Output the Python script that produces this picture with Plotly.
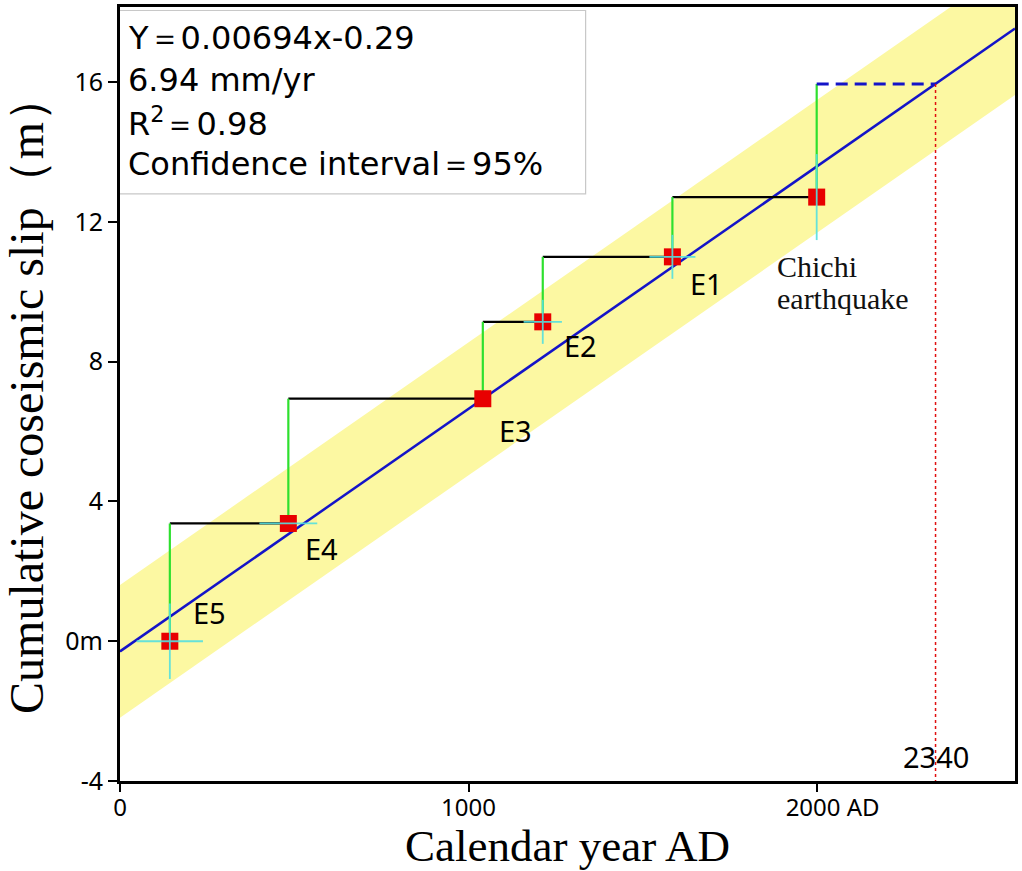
import plotly.graph_objects as go

# Paleoseismic events: calendar year and cumulative coseismic slip (m)
event_names = ["E5", "E4", "E3", "E2", "E1"]
event_years = [143, 483, 1041, 1213, 1585, 1999]
event_slip = [0.0, 3.37, 6.94, 9.14, 11.0, 12.71]
year_err = [95, 83, 0, 55, 66, 0]
slip_err = [1.08, 0.0, 0.0, 0.63, 0.63, 1.23]
last_event_label = ["Chichi", "earthquake"]

# Linear regression of slip on time
slope = 0.00694
intercept = -0.29
band_half = 1.9
projected_year = 2340
projected_slip = slope * projected_year + intercept

x_range = [0, 2568]
y_range = [-4, 18.15]
y_ticks = [-4, 0, 4, 8, 12, 16]
y_ticktext = ["-4", "0m", "4", "8", "12", "16"]
x_ticks = [0, 1000, 2000]
x_ticktext = ["0", "1000", "&nbsp;&nbsp;&nbsp;&nbsp;&nbsp;2000 AD"]

stats_lines = ["Y＝0.00694x-0.29", "6.94 mm/yr", "R<sup>2</sup>＝0.98", "Confidence interval＝95%"]

fig = go.Figure()

# 95% confidence band
fx = [x_range[0], x_range[1]]
lower = [slope * v + intercept - band_half for v in fx]
upper = [slope * v + intercept + band_half for v in fx]
fig.add_trace(go.Scatter(x=fx, y=lower, mode="lines", line=dict(width=0), hoverinfo="skip"))
fig.add_trace(go.Scatter(x=fx, y=upper, mode="lines", line=dict(width=0), fill="tonexty",
                         fillcolor="#FCF8A2", hoverinfo="skip"))

# Regression line
fig.add_trace(go.Scatter(x=fx, y=[slope * v + intercept for v in fx], mode="lines",
                         line=dict(color="#1414C8", width=2.5), hoverinfo="skip"))

# Staircase: green rises (slip per event) and black horizontals (interseismic)
next_slip = event_slip[1:] + [projected_slip]
gx, gy, bx, by = [], [], [], []
for i, yr in enumerate(event_years):
    gx += [yr, yr, None]
    gy += [event_slip[i], next_slip[i], None]
    if i + 1 < len(event_years):
        bx += [yr, event_years[i + 1], None]
        by += [next_slip[i], next_slip[i], None]
fig.add_trace(go.Scatter(x=bx, y=by, mode="lines", line=dict(color="black", width=2.2), hoverinfo="skip"))
fig.add_trace(go.Scatter(x=gx, y=gy, mode="lines", line=dict(color="#2EE02E", width=2.2), hoverinfo="skip"))

# Projection to the next event
fig.add_trace(go.Scatter(x=[event_years[-1], projected_year], y=[projected_slip, projected_slip],
                         mode="lines", line=dict(color="#1414C8", width=3, dash="12px,7px"),
                         hoverinfo="skip"))
fig.add_trace(go.Scatter(x=[projected_year, projected_year], y=[projected_slip, y_range[0]],
                         mode="lines", line=dict(color="#E01010", width=1.5, dash="dot"),
                         hoverinfo="skip"))

# Event markers
fig.add_trace(go.Scatter(x=event_years, y=event_slip, mode="markers",
                         marker=dict(symbol="square", size=17, color="#E80000"), hoverinfo="skip"))

# Dating and slip uncertainties drawn over the markers
ex, ey = [], []
for yr, s, dx, dy in zip(event_years, event_slip, year_err, slip_err):
    if dx:
        ex += [yr - dx, yr + dx, None]
        ey += [s, s, None]
    if dy:
        ex += [yr, yr, None]
        ey += [s - dy, s + dy, None]
fig.add_trace(go.Scatter(x=ex, y=ey, mode="lines", line=dict(color="#55E0E0", width=1.8),
                         opacity=0.9, hoverinfo="skip"))

sans = "Noto Sans, DejaVu Sans, sans-serif"
wide_sans = "DejaVu Sans, Noto Sans, sans-serif"
serif = "Liberation Serif, Times New Roman, serif"

annotations = []
label_pos = [(257, 0.83), (578, 2.66), (1136, 6.03), (1322, 8.46), (1682, 10.23)]
for name, (lx, ly) in zip(event_names, label_pos):
    annotations.append(dict(x=lx, y=ly, text=name, showarrow=False,
                            font=dict(family=sans, size=29, color="black")))
for txt, ly in zip(last_event_label, [10.71, 9.8]):
    annotations.append(dict(x=1880, y=ly, text=txt, showarrow=False, xanchor="left",
                            font=dict(family=serif, size=30, color="#111111")))
annotations.append(dict(x=projected_year, y=-3.31, text=str(projected_year), showarrow=False,
                        font=dict(family=sans, size=29, color="black")))

stat_y = [17.25, 16.05, 14.85, 13.67]
for txt, sy in zip(stats_lines, stat_y):
    annotations.append(dict(x=18, y=sy, text=txt, showarrow=False, xanchor="left",
                            font=dict(family=wide_sans, size=32, color="black")))

fig.update_layout(
    width=1022, height=871,
    margin=dict(l=120, r=4, t=6, b=90),
    paper_bgcolor="white", plot_bgcolor="white",
    showlegend=False,
    annotations=annotations,
    shapes=[dict(type="rect", xref="x", yref="y", x0=-5, x1=1336, y0=12.8, y1=18.05,
                 line=dict(color="#C8C8C8", width=1.2), fillcolor="white", layer="above")],
    xaxis=dict(range=x_range, tickvals=x_ticks, ticktext=x_ticktext, showgrid=False,
               zeroline=False, showline=True, linecolor="black", linewidth=3, mirror=True,
               ticks="outside", ticklen=8, tickwidth=2, tickcolor="black",
               ticklabelstandoff=-5,
               tickfont=dict(family=sans, size=24, color="black"),
               title=dict(text="Calendar year AD", standoff=9,
                          font=dict(family=serif, size=45, color="black"))),
    yaxis=dict(range=y_range, tickvals=y_ticks, ticktext=y_ticktext, showgrid=False,
               zeroline=False, showline=True, linecolor="black", linewidth=3, mirror=True,
               ticks="outside", ticklen=9, tickwidth=2, tickcolor="black",
               tickfont=dict(family=sans, size=25, color="black"),
               title=dict(text="Cumulative coseismic slip（m）", standoff=8,
                          font=dict(family=serif, size=48, color="black"))),
)

fig.write_html("out.html")
